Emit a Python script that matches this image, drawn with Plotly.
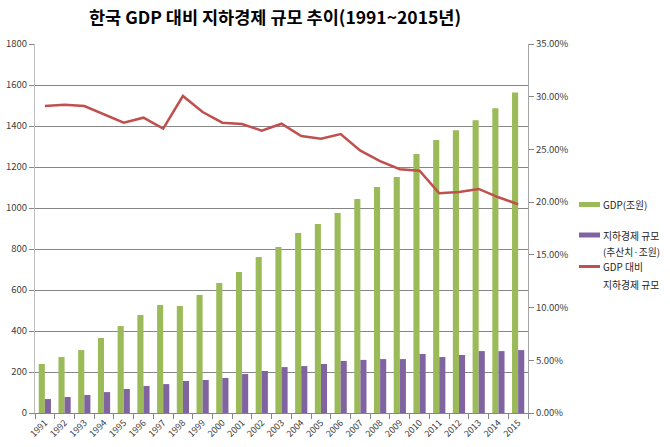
import plotly.graph_objects as go

years = [str(y) for y in range(1991, 2016)]
gdp = [239, 273, 307, 366, 424, 478, 527, 522, 576, 634, 688, 761, 810, 878, 922,
       976, 1044, 1102, 1151, 1264, 1332, 1379, 1428, 1487, 1564]
underground = [68, 78, 88, 102, 117, 132, 141, 156, 161, 171, 190, 205, 224, 229, 239,
               254, 259, 263, 263, 288, 273, 283, 302, 302, 307]
ratio = [29.12, 29.24, 29.12, 28.36, 27.54, 28.01, 26.97, 30.07, 28.55, 27.54, 27.41,
         26.78, 27.44, 26.27, 26.02, 26.46, 24.88, 23.90, 23.12, 22.98, 20.84, 20.96,
         21.25, 20.46, 19.80]
ratio_frac = [r / 100 for r in ratio]

series_names = ["GDP(조원)", "지하경제 규모<br>(추산치·조원)", "GDP 대비<br>지하경제 규모"]
series_colors = ["#9BBB59", "#8064A2", "#C0504D"]

FONT = "Noto Sans CJK KR"
TICKC = "#404040"

W, H = 670, 447
L, R, T, B = 35, 142, 44, 34
PW, PH = W - L - R, H - T - B


def px2paper(x, y):
    return (x - L) / PW, (H - B - y) / PH


fig = go.Figure()
fig.add_trace(go.Bar(x=years, y=gdp, name=series_names[0], marker_color=series_colors[0],
                     marker_line_width=0))
fig.add_trace(go.Bar(x=years, y=underground, name=series_names[1],
                     marker_color=series_colors[1], marker_line_width=0))
fig.add_trace(go.Scatter(x=years, y=ratio_frac, name=series_names[2],
                         yaxis="y2", mode="lines",
                         line=dict(color=series_colors[2], width=2.5)))

# manual legend (to reproduce the wide line spacing of the original)
shapes = []
annotations = []
legend_rows = [  # (swatch y center px, swatch thickness px, text lines with y px)
    (204.5, 5, [("GDP(조원)", 205)]),
    (235, 5, [("지하경제 규모", 235.5), ("(추산치·조원)", 251.5)]),
    (266.5, 3, [("GDP 대비", 267), ("지하경제 규모", 285)]),
]
for (sy, th, lines), col in zip(legend_rows, series_colors):
    x0, y0 = px2paper(579, sy - th / 2)
    x1, y1 = px2paper(600, sy + th / 2)
    shapes.append(dict(type="rect", xref="paper", yref="paper", x0=x0, x1=x1,
                       y0=y1, y1=y0, fillcolor=col, line_width=0, layer="above"))
    for txt, ty in lines:
        ax, ay = px2paper(601, ty)
        annotations.append(dict(text=txt, xref="paper", yref="paper", x=ax, y=ay,
                                xanchor="left", yanchor="middle", showarrow=False,
                                font=dict(family=FONT, size=9.8, color="#262626")))

fig.update_layout(
    width=W, height=H,
    margin=dict(l=L, r=R, t=T, b=B),
    paper_bgcolor="white", plot_bgcolor="white",
    font=dict(family=FONT, size=9.5, color=TICKC),
    title=dict(text="<b>한국 GDP 대비 지하경제 규모 추이(1991~2015년)</b>",
               x=275 / W, xref="container", xanchor="center",
               y=1 - 18 / H, yref="container", yanchor="middle",
               font=dict(family=FONT, size=17.5, color="black")),
    barmode="group", bargap=0.38, bargroupgap=0,
    xaxis=dict(type="category", tickangle=-45, showgrid=False, automargin=False,
               showline=True, linecolor="#868686", linewidth=1,
               ticks="outside", ticklen=5, tickcolor="#868686",
               tickson="boundaries", tickfont=dict(size=9, color=TICKC)),
    yaxis=dict(range=[0, 1800], dtick=200, showgrid=True, gridcolor="#868686",
               gridwidth=1, showline=True, linecolor="#BFBFBF", linewidth=1,
               ticks="outside", ticklen=5, tickcolor="#868686", automargin=False,
               zeroline=False, tickfont=dict(size=9.5, color=TICKC)),
    yaxis2=dict(range=[0, 0.35], dtick=0.05, tickformat=".2%", overlaying="y",
                side="right", showgrid=False, showline=True, linecolor="#A6A6A6",
                linewidth=1, ticks="outside", ticklen=5, tickcolor="#868686",
                automargin=False,
                zeroline=False, tickfont=dict(size=9.5, color=TICKC)),
    showlegend=False,
    shapes=shapes,
    annotations=annotations,
)

fig.write_html("out.html")
